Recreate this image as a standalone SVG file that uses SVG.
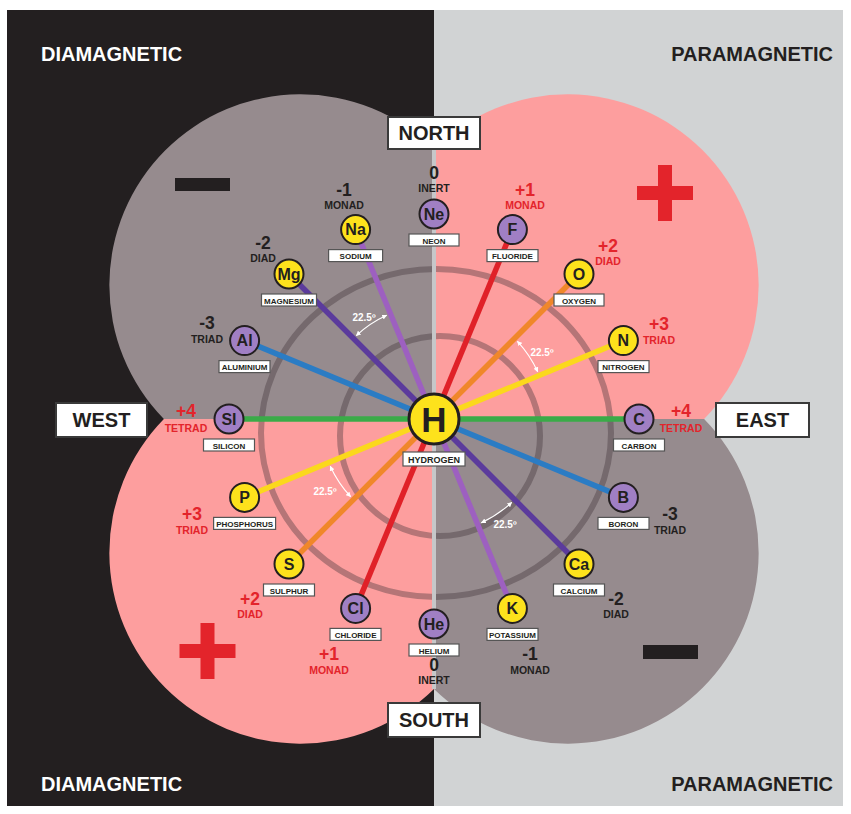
<svg xmlns="http://www.w3.org/2000/svg" width="851" height="814" viewBox="0 0 851 814">
<style>
text{font-family:"Liberation Sans",Arial,sans-serif;font-weight:bold;text-anchor:middle}
.head{font-size:20px}
.dir{font-size:20px;fill:#231f20}
.dbox{fill:#fff;stroke:#3a3a3a;stroke-width:2}
.num{font-size:17.5px}
.val{font-size:10.5px}
.neg{fill:#231f20}
.pos{fill:#e3242b}
.lb{fill:#fff;stroke:#555;stroke-width:1.2}
.lt{font-size:8px;fill:#231f20}
.pu{fill:#a07fc4;stroke:#231f20;stroke-width:2}
.ye{fill:#fde21c;stroke:#231f20;stroke-width:2}
.sym{font-size:16px;fill:#231f20}
.ring{fill:none;stroke:#3e3336;stroke-opacity:0.38;stroke-width:6}
.sp{stroke-width:5.5;fill:none}
.ang{fill:none;stroke:#fff;stroke-width:1.1}
.angt{font-size:10px;fill:#fff}
</style>
<defs>
<marker id="ah" viewBox="0 0 10 10" refX="9" refY="5" markerWidth="5" markerHeight="5" orient="auto-start-reverse" markerUnits="userSpaceOnUse">
<path d="M0,0 L10,5 L0,10 Z" fill="#fff"/>
</marker>
</defs>
<rect x="0" y="0" width="851" height="814" fill="#fff"/>
<rect x="7" y="10" width="427" height="796" fill="#231f20"/>
<rect x="434" y="10" width="409" height="796" fill="#d1d3d4"/>
<g id="quadrants">
<path d="M434,148.9 A191,191 0 0,0 163.9,419 L434,419 Z" fill="#968b8e"/>
<path d="M434,148.9 A191,191 0 0,1 704.1,419 L434,419 Z" fill="#fd9e9e"/>
<path d="M434,689.1 A191,191 0 0,1 163.9,419 L434,419 Z" fill="#fd9e9e"/>
<path d="M434,689.1 A191,191 0 0,0 704.1,419 L434,419 Z" fill="#968b8e"/>
</g>
<g id="rings">
<ellipse class="ring" cx="436" cy="433" rx="175" ry="164"/>
<circle class="ring" cx="440" cy="436" r="100"/>
</g>
<g id="signs">
<rect x="175" y="178" width="55" height="13" fill="#231f20"/>
<rect x="643" y="645" width="55" height="14" fill="#231f20"/>
<path d="M658,165 h14 v21 h21 v14 h-21 v21 h-14 v-21 h-21 v-14 h21 Z" fill="#e3242b"/>
<path d="M200.5,623 h14 v21 h21 v14 h-21 v21 h-14 v-21 h-21 v-14 h21 Z" fill="#e3242b"/>
</g>
<g id="connectors">
<line x1="434" y1="149" x2="434" y2="689" stroke="#c6c7c9" stroke-width="4"/>
<line class="sp" x1="355.6" y1="229.6" x2="512.4" y2="608.4" stroke="#9d60c0"/>
<line class="sp" x1="289" y1="274" x2="579" y2="564" stroke="#5b3b9c"/>
<line class="sp" x1="244.6" y1="340.6" x2="623.4" y2="497.4" stroke="#2b7cc4"/>
<line class="sp" x1="229" y1="419" x2="639" y2="419" stroke="#3aab48"/>
<line class="sp" x1="244.6" y1="497.4" x2="623.4" y2="340.6" stroke="#fbd81c"/>
<line class="sp" x1="289" y1="564" x2="579" y2="274" stroke="#f0872a"/>
<line class="sp" x1="355.6" y1="608.4" x2="512.4" y2="229.6" stroke="#e02128"/>
</g>
<g id="angles">
<path class="ang" d="M356.3,335.6 A114,114 0 0,1 386.7,315.3" marker-start="url(#ah)" marker-end="url(#ah)"/>
<path class="ang" d="M517.4,341.3 A114,114 0 0,1 537.7,371.7" marker-start="url(#ah)" marker-end="url(#ah)"/>
<path class="ang" d="M511.7,502.4 A114,114 0 0,1 481.3,522.7" marker-start="url(#ah)" marker-end="url(#ah)"/>
<path class="ang" d="M350.6,496.7 A114,114 0 0,1 330.3,466.3" marker-start="url(#ah)" marker-end="url(#ah)"/>
<text class="angt" x="364" y="321">22.5º</text>
<text class="angt" x="542" y="356">22.5º</text>
<text class="angt" x="505" y="528">22.5º</text>
<text class="angt" x="325" y="495">22.5º</text>
</g>
<g id="n-H"><circle cx="434" cy="419" r="25" fill="#fde21c" stroke="#231f20" stroke-width="3"/><text x="434" y="431.5" style="font-size:35px;fill:#231f20">H</text><rect class="lb" x="403" y="452" width="62" height="14"/><text x="434" y="462.5" style="font-size:9px;fill:#231f20">HYDROGEN</text></g>
<g id="n-Ne"><circle class="pu" cx="434" cy="214" r="14.5"/><text class="sym" x="434" y="219.8">Ne</text><rect class="lb" x="409" y="234" width="50" height="12"/><text class="lt" x="434" y="243.5">NEON</text></g>
<g id="n-F"><circle class="pu" cx="512.4" cy="229.6" r="14.5"/><text class="sym" x="512.4" y="235.4">F</text><rect class="lb" x="487" y="249.6" width="51" height="12"/><text class="lt" x="512.4" y="259.1">FLUORIDE</text></g>
<g id="n-O"><circle class="ye" cx="579" cy="274" r="14.5"/><text class="sym" x="579" y="279.8">O</text><rect class="lb" x="554" y="294" width="50" height="12"/><text class="lt" x="579" y="303.5">OXYGEN</text></g>
<g id="n-N"><circle class="ye" cx="623.4" cy="340.6" r="14.5"/><text class="sym" x="623.4" y="346.4">N</text><rect class="lb" x="598" y="360.6" width="51" height="12"/><text class="lt" x="623.4" y="370.1">NITROGEN</text></g>
<g id="n-C"><circle class="pu" cx="639" cy="419" r="14.5"/><text class="sym" x="639" y="424.8">C</text><rect class="lb" x="613.5" y="439" width="51" height="12"/><text class="lt" x="639" y="448.5">CARBON</text></g>
<g id="n-B"><circle class="pu" cx="623.4" cy="497.4" r="14.5"/><text class="sym" x="623.4" y="503.2">B</text><rect class="lb" x="598" y="517.4" width="51" height="12"/><text class="lt" x="623.4" y="526.9">BORON</text></g>
<g id="n-Ca"><circle class="ye" cx="579" cy="564" r="14.5"/><text class="sym" x="579" y="569.8">Ca</text><rect class="lb" x="553.5" y="584" width="51" height="12"/><text class="lt" x="579" y="593.5">CALCIUM</text></g>
<g id="n-K"><circle class="ye" cx="512.4" cy="608.4" r="14.5"/><text class="sym" x="512.4" y="614.2">K</text><rect class="lb" x="487" y="628.4" width="51" height="12"/><text class="lt" x="512.4" y="637.9">POTASSIUM</text></g>
<g id="n-He"><circle class="pu" cx="434" cy="624" r="14.5"/><text class="sym" x="434" y="629.8">He</text><rect class="lb" x="409" y="644" width="50" height="12"/><text class="lt" x="434" y="653.5">HELIUM</text></g>
<g id="n-Cl"><circle class="pu" cx="355.6" cy="608.4" r="14.5"/><text class="sym" x="355.6" y="614.2">Cl</text><rect class="lb" x="330" y="628.4" width="51" height="12"/><text class="lt" x="355.6" y="637.9">CHLORIDE</text></g>
<g id="n-S"><circle class="ye" cx="289" cy="564" r="14.5"/><text class="sym" x="289" y="569.8">S</text><rect class="lb" x="263.5" y="584" width="51" height="12"/><text class="lt" x="289" y="593.5">SULPHUR</text></g>
<g id="n-P"><circle class="ye" cx="244.6" cy="497.4" r="14.5"/><text class="sym" x="244.6" y="503.2">P</text><rect class="lb" x="213.6" y="517.4" width="62" height="12"/><text class="lt" x="244.6" y="526.9">PHOSPHORUS</text></g>
<g id="n-Si"><circle class="pu" cx="229" cy="419" r="14.5"/><text class="sym" x="229" y="424.8">SI</text><rect class="lb" x="203.5" y="439" width="51" height="12"/><text class="lt" x="229" y="448.5">SILICON</text></g>
<g id="n-Al"><circle class="pu" cx="244.6" cy="340.6" r="14.5"/><text class="sym" x="244.6" y="346.4">Al</text><rect class="lb" x="219" y="360.6" width="51" height="12"/><text class="lt" x="244.6" y="370.1">ALUMINIUM</text></g>
<g id="n-Mg"><circle class="ye" cx="289" cy="274" r="14.5"/><text class="sym" x="289" y="279.8">Mg</text><rect class="lb" x="261.5" y="294" width="55" height="12"/><text class="lt" x="289" y="303.5">MAGNESIUM</text></g>
<g id="n-Na"><circle class="ye" cx="355.6" cy="229.6" r="14.5"/><text class="sym" x="355.6" y="235.4">Na</text><rect class="lb" x="328.6" y="249.6" width="54" height="12"/><text class="lt" x="355.6" y="259.1">SODIUM</text></g>
<g id="valences">
<text class="num neg" x="434" y="179">0</text><text class="val neg" x="434" y="192">INERT</text>
<text class="num neg" x="344" y="196">-1</text><text class="val neg" x="344" y="209">MONAD</text>
<text class="num neg" x="263" y="249">-2</text><text class="val neg" x="263" y="262">DIAD</text>
<text class="num neg" x="207" y="329">-3</text><text class="val neg" x="207" y="343">TRIAD</text>
<text class="num pos" x="186" y="417">+4</text><text class="val pos" x="186" y="432">TETRAD</text>
<text class="num pos" x="192" y="520">+3</text><text class="val pos" x="192" y="534">TRIAD</text>
<text class="num pos" x="250" y="605">+2</text><text class="val pos" x="250" y="618">DIAD</text>
<text class="num pos" x="329" y="660">+1</text><text class="val pos" x="329" y="674">MONAD</text>
<text class="num neg" x="434" y="671">0</text><text class="val neg" x="434" y="684">INERT</text>
<text class="num neg" x="530" y="660">-1</text><text class="val neg" x="530" y="674">MONAD</text>
<text class="num neg" x="616" y="605">-2</text><text class="val neg" x="616" y="618">DIAD</text>
<text class="num neg" x="670" y="520">-3</text><text class="val neg" x="670" y="534">TRIAD</text>
<text class="num pos" x="681" y="417">+4</text><text class="val pos" x="681" y="432">TETRAD</text>
<text class="num pos" x="659" y="330">+3</text><text class="val pos" x="659" y="344">TRIAD</text>
<text class="num pos" x="608" y="252">+2</text><text class="val pos" x="608" y="265">DIAD</text>
<text class="num pos" x="525" y="196">+1</text><text class="val pos" x="525" y="209">MONAD</text>
</g>
<g id="directions">
<rect class="dbox" x="388" y="117" width="92" height="32"/><text class="dir" x="434" y="140">NORTH</text>
<rect class="dbox" x="388" y="703" width="92" height="34"/><text class="dir" x="434" y="727">SOUTH</text>
<rect class="dbox" x="56" y="403" width="91" height="34"/><text class="dir" x="101.5" y="427">WEST</text>
<rect class="dbox" x="716" y="403" width="93" height="34"/><text class="dir" x="762.5" y="427">EAST</text>
</g>
<g id="headings">
<text class="head" x="41" y="61" style="text-anchor:start;fill:#fff">DIAMAGNETIC</text>
<text class="head" x="833" y="61" style="text-anchor:end;fill:#231f20">PARAMAGNETIC</text>
<text class="head" x="41" y="791" style="text-anchor:start;fill:#fff">DIAMAGNETIC</text>
<text class="head" x="833" y="791" style="text-anchor:end;fill:#231f20">PARAMAGNETIC</text>
</g>
</svg>
